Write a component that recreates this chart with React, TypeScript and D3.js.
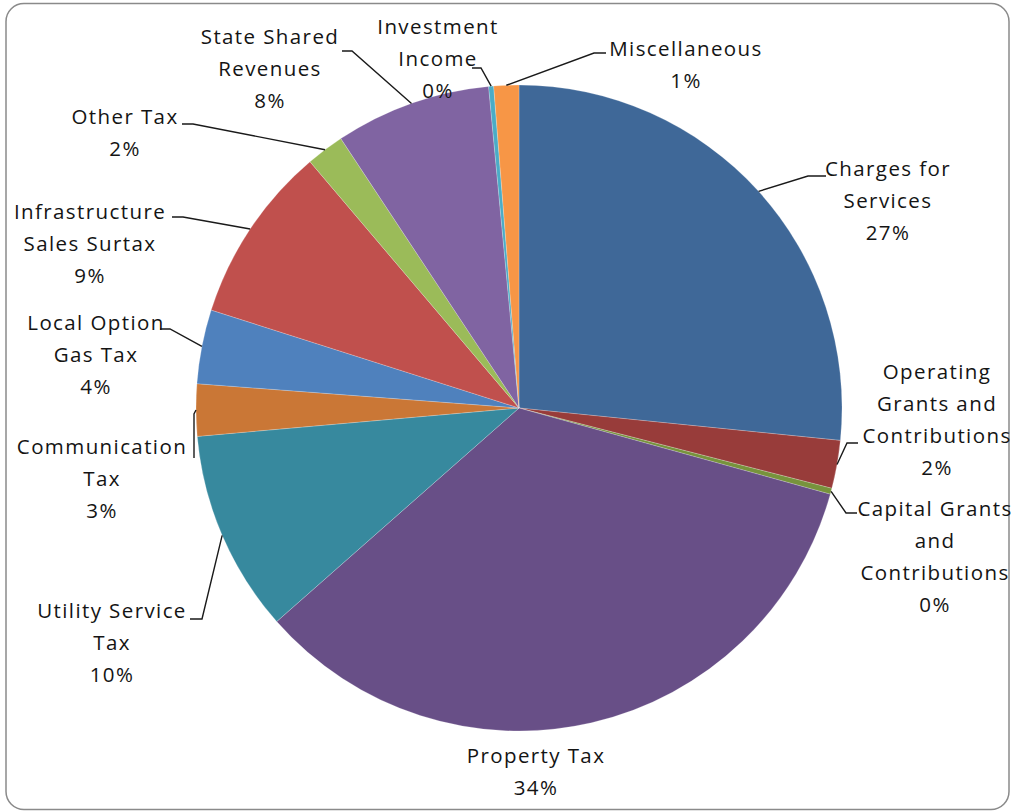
import React from 'react'
import * as d3 from 'd3'

// revenue sources, clockwise from 12 o'clock
const categories = [
  'Charges for Services',
  'Operating Grants and Contributions',
  'Capital Grants and Contributions',
  'Property Tax',
  'Utility Service Tax',
  'Communication Tax',
  'Local Option Gas Tax',
  'Infrastructure Sales Surtax',
  'Other Tax',
  'State Shared Revenues',
  'Investment Income',
  'Miscellaneous',
]
const shares = [26.6, 2.4, 0.3, 34.2, 10.1, 2.6, 3.7, 8.9, 1.9, 7.8, 0.25, 1.25]
const colors = [
  '#3F6898', '#983C3A', '#77933C', '#684F87', '#37899E', '#CA7736',
  '#4F81BD', '#C0504D', '#9BBB59', '#8064A2', '#4BACC6', '#F79646',
]

// label text lines as Excel wraps them
const labelLines = [
  ['Charges for', 'Services'],
  ['Operating', 'Grants and', 'Contributions'],
  ['Capital Grants', 'and', 'Contributions'],
  ['Property Tax'],
  ['Utility Service', 'Tax'],
  ['Communication', 'Tax'],
  ['Local Option', 'Gas Tax'],
  ['Infrastructure', 'Sales Surtax'],
  ['Other Tax'],
  ['State Shared', 'Revenues'],
  ['Investment', 'Income'],
  ['Miscellaneous'],
]

// label placement: text centre x, first line centre y, leader elbow and end (null = no leader)
const labelLayout: { cx: number; cy: number; leader: number[] | null }[] = [
  { cx: 888, cy: 168, leader: [808, 176, 826, 176] },
  { cx: 937, cy: 371, leader: [847, 443, 858, 443] },
  { cx: 935, cy: 508, leader: [846, 513, 857, 513] },
  { cx: 536, cy: 755, leader: null },
  { cx: 112, cy: 610, leader: [202, 619, 190, 619] },
  { cx: 102, cy: 446, leader: [194, 414, 194, 458] },
  { cx: 96, cy: 322, leader: [170, 329, 160, 329] },
  { cx: 90, cy: 211, leader: [183, 217, 172, 217] },
  { cx: 125, cy: 116, leader: [193, 124, 182, 124] },
  { cx: 270, cy: 36, leader: [352, 51, 342, 51] },
  { cx: 438, cy: 26, leader: [481, 68, 472, 68] },
  { cx: 686, cy: 48, leader: [594, 53, 606, 53] },
]

const W = 1013
const H = 812
const center = { x: 519, y: 408 }
const radius = 323
const lineH = 32.3

export default function App() {
  const total = d3.sum(shares)
  const pie = d3.pie<number>().sort(null).value(d => d)
  const arcs = pie(shares)
  const arc = d3.arc<d3.PieArcDatum<number>>().innerRadius(0).outerRadius(radius)

  return (
    <svg width={W} height={H} style={{ position: 'absolute', left: 0, top: 0 }}
      fontFamily="'Open Sans', sans-serif" fontSize={20.5}>
      <rect x={6} y={3.5} width={1003} height={806} rx={18} fill="#fff" stroke="#8a8a8a" strokeWidth={1.5} />
      <g transform={`translate(${center.x},${center.y})`}>
        {arcs.map((a, i) => (
          <path key={i} d={arc(a) || ''} fill={colors[i]} stroke="#ffffff" strokeOpacity={0.35} strokeWidth={0.6} />
        ))}
      </g>
      {arcs.map((a, i) => {
        const lay = labelLayout[i]
        const mid = (a.startAngle + a.endAngle) / 2
        const px = center.x + radius * Math.sin(mid)
        const py = center.y - radius * Math.cos(mid)
        const pct = Math.round((shares[i] / total) * 100) + '%'
        const lines = [...labelLines[i], pct]
        return (
          <g key={i}>
            {lay.leader && (
              <path
                d={`M${px},${py}L${lay.leader[0]},${lay.leader[1]}L${lay.leader[2]},${lay.leader[3]}`}
                fill="none" stroke="#1a1a1a" strokeWidth={1.4}
              />
            )}
            <text textAnchor="middle" fill="#141414" letterSpacing={1.4}>
              {lines.map((t, j) => (
                <tspan key={j} x={lay.cx} y={lay.cy + j * lineH + 7.5}>{t}</tspan>
              ))}
            </text>
          </g>
        )
      })}
    </svg>
  )
}
